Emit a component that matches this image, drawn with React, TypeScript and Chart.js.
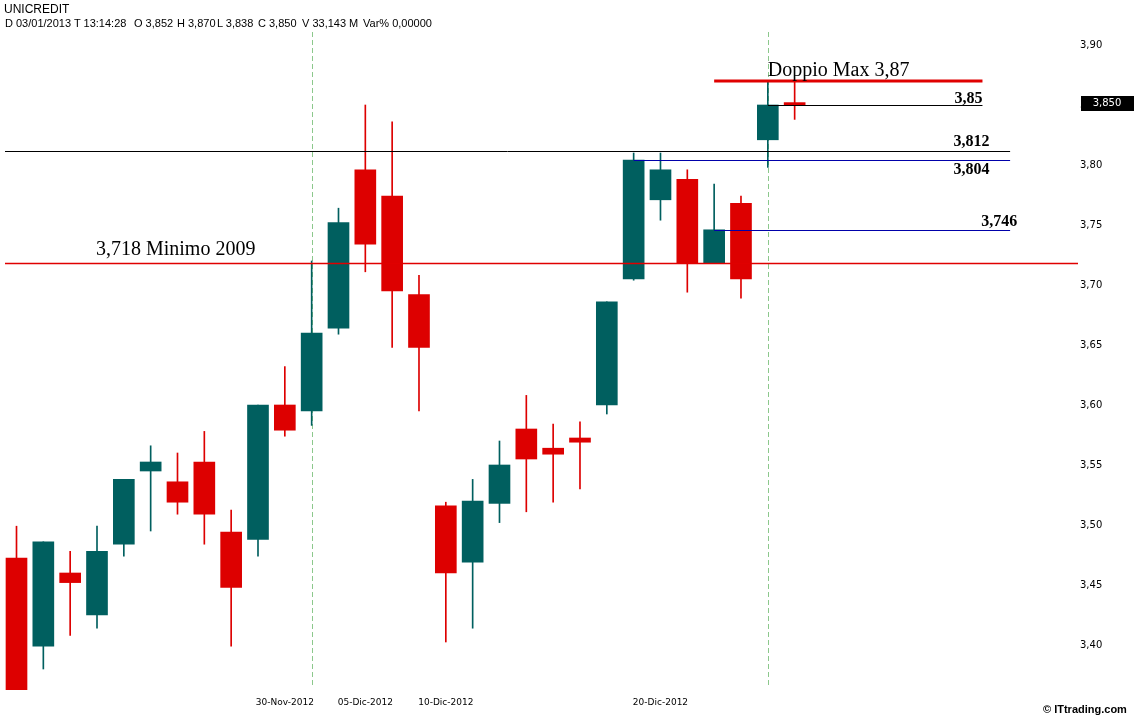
import React, { useEffect, useRef } from "react";
import { Chart, registerables } from "chart.js";

Chart.register(...registerables);

// ---------- DATA ----------
const dates = [
  "16-Nov-2012", "19-Nov-2012", "20-Nov-2012", "21-Nov-2012", "22-Nov-2012",
  "23-Nov-2012", "26-Nov-2012", "27-Nov-2012", "28-Nov-2012", "29-Nov-2012",
  "30-Nov-2012", "03-Dic-2012", "04-Dic-2012", "05-Dic-2012", "06-Dic-2012",
  "07-Dic-2012", "10-Dic-2012", "11-Dic-2012", "12-Dic-2012", "13-Dic-2012",
  "14-Dic-2012", "17-Dic-2012", "18-Dic-2012", "19-Dic-2012", "20-Dic-2012",
  "21-Dic-2012", "27-Dic-2012", "28-Dic-2012", "02-Gen-2013", "03-Gen-2013",
];
const openV = [
  3.4725, 3.399, 3.46, 3.425, 3.484, 3.545, 3.536, 3.5525, 3.494, 3.488,
  3.6, 3.595, 3.664, 3.796, 3.774, 3.692, 3.516, 3.469, 3.518, 3.58,
  3.564, 3.5725, 3.6, 3.705, 3.771, 3.788, 3.7185, 3.768, 3.821, 3.852,
];
const highV = [
  3.499, 3.486, 3.478, 3.499, 3.538, 3.566, 3.56, 3.578, 3.5125, 3.6,
  3.632, 3.72, 3.764, 3.85, 3.836, 3.708, 3.519, 3.538, 3.57, 3.608,
  3.584, 3.586, 3.686, 3.81, 3.81, 3.796, 3.784, 3.774, 3.87, 3.87,
];
const lowV = [
  3.35, 3.38, 3.408, 3.414, 3.474, 3.495, 3.509, 3.484, 3.399, 3.474,
  3.574, 3.583, 3.659, 3.711, 3.648, 3.595, 3.4025, 3.414, 3.502, 3.511,
  3.519, 3.53, 3.5925, 3.704, 3.754, 3.694, 3.718, 3.689, 3.798, 3.838,
];
const closeV = [
  3.355, 3.486, 3.452, 3.478, 3.538, 3.5525, 3.519, 3.509, 3.448, 3.6,
  3.579, 3.66, 3.752, 3.734, 3.695, 3.648, 3.46, 3.52, 3.55, 3.555,
  3.559, 3.569, 3.686, 3.804, 3.796, 3.718, 3.746, 3.705, 3.85, 3.85,
];
const xTickDates = ["30-Nov-2012", "05-Dic-2012", "10-Dic-2012", "20-Dic-2012"];
const yTicks = [3.4, 3.45, 3.5, 3.55, 3.6, 3.65, 3.7, 3.75, 3.8, 3.85, 3.9];
const monthStartDates = ["03-Dic-2012", "02-Gen-2013"];
const lastPrice = 3.85;
const levelValues = [3.87, 3.85, 3.812, 3.804, 3.746, 3.718];
const levelLabels = ["Doppio Max 3,87", "3,85", "3,812", "3,804", "3,746", "3,718 Minimo 2009"];
const headerTitle = "UNICREDIT";
const headerItems = [
  "D 03/01/2013", "T 13:14:28", "O 3,852", "H 3,870", "L 3,838", "C 3,850", "V 33,143 M", "Var% 0,00000",
];
const footerText = "© ITtrading.com";

// ---------- STYLES ----------
const UP = "#005f5f";
const DOWN = "#dd0000";
const headerX = [5, 74, 134, 177, 217, 258, 302, 363];
// from/to in x-index units (null = chart edge), label anchor in x-index units
const levelStyles = [
  { from: 26, to: 36.0, color: "#e00000", width: 3, snap: false, lx: 28, align: "left", dy: -5, font: "20px 'Liberation Serif'" },
  { from: 28, to: 36.0, color: "#000000", width: 1, snap: true, lx: 36.0, align: "right", dy: -2.5, font: "bold 16px 'Liberation Serif'" },
  { from: null, to: 37.03, color: "#000000", width: 1, snap: true, lx: 36.26, align: "right", dy: -4.5, font: "bold 16px 'Liberation Serif'" },
  { from: 23, to: 37.03, color: "#0000aa", width: 1, snap: true, lx: 36.26, align: "right", dy: 14, font: "bold 16px 'Liberation Serif'" },
  { from: 26, to: 37.03, color: "#0000aa", width: 1, snap: true, lx: 37.3, align: "right", dy: -4, font: "bold 16px 'Liberation Serif'" },
  { from: null, to: null, color: "#e00000", width: 1.5, snap: false, lx: 2.96, align: "left", dy: -8.5, font: "20px 'Liberation Serif'" },
];

const overlayPlugin = {
  id: "overlay",
  beforeDatasetsDraw(chart: any) {
    const { ctx, chartArea, scales } = chart;
    const x = scales.x;
    ctx.save();
    ctx.strokeStyle = "#8cc88c";
    ctx.lineWidth = 1;
    ctx.setLineDash([5, 3]);
    monthStartDates.forEach((d) => {
      const i = dates.indexOf(d);
      const px = Math.round(x.getPixelForValue(i)) + 0.5;
      ctx.beginPath();
      ctx.moveTo(px, chartArea.top + 2);
      ctx.lineTo(px, chartArea.bottom - 2);
      ctx.stroke();
    });
    ctx.restore();
  },
  afterDatasetsDraw(chart: any) {
    const { ctx, chartArea, scales } = chart;
    const x = scales.x;
    const y = scales.y;
    levelValues.forEach((v, k) => {
      const s = levelStyles[k];
      const x0 = s.from === null ? chartArea.left : x.getPixelForValue(s.from);
      const x1 = s.to === null ? chartArea.right : x.getPixelForValue(s.to);
      let py = y.getPixelForValue(v);
      if (s.snap) py = Math.round(py) + 0.5;
      ctx.save();
      ctx.setLineDash([]);
      ctx.strokeStyle = s.color;
      ctx.lineWidth = s.width;
      ctx.beginPath();
      ctx.moveTo(x0, py);
      ctx.lineTo(x1, py);
      ctx.stroke();
      ctx.restore();
      ctx.save();
      ctx.fillStyle = "#000";
      ctx.font = s.font;
      ctx.textAlign = s.align;
      ctx.textBaseline = "alphabetic";
      ctx.fillText(levelLabels[k], x.getPixelForValue(s.lx), y.getPixelForValue(v) + s.dy);
      ctx.restore();
    });
    // last price box
    const py = y.getPixelForValue(lastPrice);
    ctx.save();
    ctx.fillStyle = "#000";
    ctx.fillRect(chartArea.right + 3, py - 9, 60, 15);
    ctx.fillStyle = "#fff";
    ctx.font = "10px 'DejaVu Sans'";
    ctx.textAlign = "center";
    ctx.textBaseline = "middle";
    ctx.fillText(lastPrice.toFixed(3).replace(".", ","), chartArea.right + 29, py - 1.5);
    ctx.restore();
  },
};

export default function App() {
  const canvasRef = useRef<HTMLCanvasElement | null>(null);

  useEffect(() => {
    const canvas = canvasRef.current;
    if (!canvas) return;
    const idx = dates.map((_, i) => i);
    const colors = idx.map((i) => (closeV[i] >= openV[i] ? UP : DOWN));
    const chart = new Chart(canvas, {
      type: "bar",
      data: {
        datasets: [
          {
            label: "body",
            data: idx.map((i) => ({ x: i, y: [openV[i], closeV[i]] })) as any,
            backgroundColor: colors,
            borderWidth: 0,
            barThickness: 21,
            grouped: false,
          } as any,
          {
            label: "wick",
            data: idx.map((i) => ({ x: i, y: [lowV[i], highV[i]] })) as any,
            backgroundColor: colors,
            borderWidth: 0,
            barThickness: 1,
            grouped: false,
          } as any,
        ],
      },
      options: {
        animation: false,
        responsive: true,
        maintainAspectRatio: false,
        layout: { padding: { left: 5, top: 30, right: 0, bottom: 0 } },
        plugins: { legend: { display: false }, tooltip: { enabled: false } },
        scales: {
          x: {
            type: "linear",
            offset: false,
            min: -0.4286,
            max: 39.56,
            grid: { display: false, drawTicks: false },
            border: { display: false },
            afterBuildTicks: (s: any) => {
              s.ticks = xTickDates.map((d) => ({ value: dates.indexOf(d) }));
            },
            afterFit: (s: any) => {
              s.height = 28;
            },
            ticks: {
              autoSkip: false,
              maxRotation: 0,
              padding: 7,
              color: "#000",
              font: { family: "'DejaVu Sans'", size: 9 },
              callback: (v: any) => dates[v] ?? "",
            },
          },
          y: {
            type: "linear",
            position: "right",
            min: 3.3625,
            max: 3.9125,
            grid: { display: false, drawTicks: false },
            border: { display: false },
            afterBuildTicks: (s: any) => {
              s.ticks = yTicks.map((v) => ({ value: v }));
            },
            afterFit: (s: any) => {
              s.width = 56;
            },
            ticks: {
              padding: 2,
              color: "#000",
              font: { family: "'DejaVu Sans'", size: 10 },
              callback: (v: any) => Number(v).toFixed(2).replace(".", ","),
            },
          },
        },
      } as any,
      plugins: [overlayPlugin],
    });
    return () => chart.destroy();
  }, []);

  return (
    <div
      style={{
        position: "absolute",
        left: 0,
        top: 0,
        width: 1134,
        height: 718,
        background: "#fff",
        fontFamily: "'Liberation Sans', Arial, sans-serif",
        color: "#000",
      }}
    >
      <canvas ref={canvasRef} style={{ position: "absolute", left: 0, top: 0 }} />
      <div style={{ position: "absolute", left: 4, top: 3, fontSize: 12, lineHeight: "12px", whiteSpace: "nowrap" }}>
        {headerTitle}
      </div>
      {headerItems.map((t, i) => (
        <div
          key={t}
          style={{ position: "absolute", left: headerX[i], top: 18, fontSize: 11, lineHeight: "11px", whiteSpace: "nowrap" }}
        >
          {t}
        </div>
      ))}
      <div
        style={{
          position: "absolute",
          left: 1043,
          top: 704,
          fontSize: 11,
          lineHeight: "11px",
          fontWeight: "bold",
          whiteSpace: "nowrap",
        }}
      >
        {footerText}
      </div>
    </div>
  );
}
